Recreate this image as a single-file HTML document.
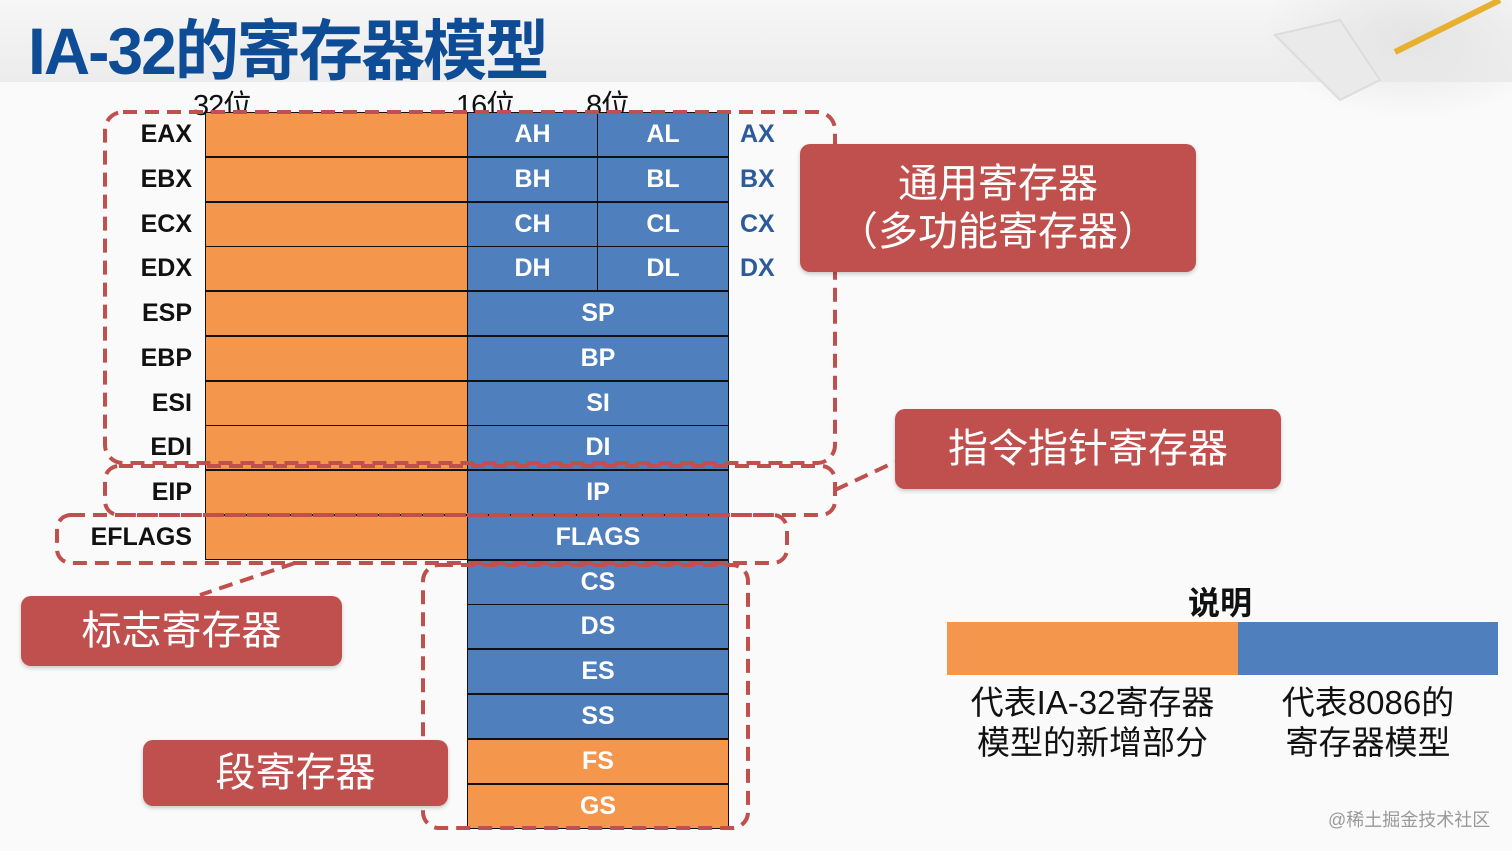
<!DOCTYPE html>
<html><head><meta charset="utf-8"><style>
*{margin:0;padding:0;box-sizing:border-box}
body{width:1512px;height:851px;overflow:hidden;background:#fafafa;position:relative;font-family:"Liberation Sans","Noto Sans CJK SC",sans-serif}
.a{position:absolute}
.title{left:28px;top:-2px;font-size:66px;font-weight:bold;color:#0f4c96;letter-spacing:-2px;transform:scaleX(0.97);transform-origin:left}
.cell{position:absolute;height:45px;border:1.5px solid #111;color:#fff;font-weight:bold;font-size:25px;display:flex;align-items:center;justify-content:center}
.o{background:#f4964c}.b{background:#4f7fbc}
.lab{position:absolute;width:190px;text-align:right;font-weight:bold;font-size:25px;color:#111;height:45px;line-height:45px;left:2px}
.x{position:absolute;left:740px;font-weight:bold;font-size:25px;color:#2d5a99;height:45px;line-height:45px}
.red{position:absolute;background:#c0504d;color:#fff;border-radius:10px;display:flex;align-items:center;justify-content:center;text-align:center;font-size:40px;line-height:48px;box-shadow:0 2px 4px rgba(0,0,0,.2)}
.bit{position:absolute;top:82px;font-size:29px;color:#111;letter-spacing:-1px}
</style></head><body>
<div class="a" style="left:0;top:0;width:1512px;height:82px;background:linear-gradient(#f6f6f6,#ececec)"></div>
<div class="a" style="left:1260px;top:0;width:252px;height:120px;background:radial-gradient(ellipse at 60% 30%,#e4e4e4,rgba(240,240,240,0) 70%)"></div>
<svg class="a" style="left:0;top:0" width="1512" height="130"><polygon points="1275,35 1340,100 1380,80 1340,20" fill="#eaeaea" stroke="#dcdcdc" stroke-width="2"/><line x1="1395" y1="52" x2="1500" y2="0" stroke="#e8b030" stroke-width="6"/></svg>
<div class="a title">IA-32的寄存器模型</div>
<div class="bit" style="left:193px">32位</div>
<div class="bit" style="left:456px">16位</div>
<div class="bit" style="left:586px">8位</div>

<div class="lab" style="top:112px">EAX</div><div class="cell o" style="left:205px;top:112px;width:263px"></div><div class="cell b" style="left:467px;top:112px;width:131px">AH</div><div class="cell b" style="left:597px;top:112px;width:132px">AL</div><div class="x" style="top:112px">AX</div>
<div class="lab" style="top:157px">EBX</div><div class="cell o" style="left:205px;top:157px;width:263px"></div><div class="cell b" style="left:467px;top:157px;width:131px">BH</div><div class="cell b" style="left:597px;top:157px;width:132px">BL</div><div class="x" style="top:157px">BX</div>
<div class="lab" style="top:202px">ECX</div><div class="cell o" style="left:205px;top:202px;width:263px"></div><div class="cell b" style="left:467px;top:202px;width:131px">CH</div><div class="cell b" style="left:597px;top:202px;width:132px">CL</div><div class="x" style="top:202px">CX</div>
<div class="lab" style="top:246px">EDX</div><div class="cell o" style="left:205px;top:246px;width:263px"></div><div class="cell b" style="left:467px;top:246px;width:131px">DH</div><div class="cell b" style="left:597px;top:246px;width:132px">DL</div><div class="x" style="top:246px">DX</div>
<div class="lab" style="top:291px">ESP</div><div class="cell o" style="left:205px;top:291px;width:263px"></div><div class="cell b" style="left:467px;top:291px;width:262px">SP</div>
<div class="lab" style="top:336px">EBP</div><div class="cell o" style="left:205px;top:336px;width:263px"></div><div class="cell b" style="left:467px;top:336px;width:262px">BP</div>
<div class="lab" style="top:381px">ESI</div><div class="cell o" style="left:205px;top:381px;width:263px"></div><div class="cell b" style="left:467px;top:381px;width:262px">SI</div>
<div class="lab" style="top:425px">EDI</div><div class="cell o" style="left:205px;top:425px;width:263px"></div><div class="cell b" style="left:467px;top:425px;width:262px">DI</div>
<div class="lab" style="top:470px">EIP</div><div class="cell o" style="left:205px;top:470px;width:263px"></div><div class="cell b" style="left:467px;top:470px;width:262px">IP</div>
<div class="lab" style="top:515px">EFLAGS</div><div class="cell o" style="left:205px;top:515px;width:263px"></div><div class="cell b" style="left:467px;top:515px;width:262px">FLAGS</div>
<div class="cell b" style="left:467px;top:560px;width:262px">CS</div>
<div class="cell b" style="left:467px;top:604px;width:262px">DS</div>
<div class="cell b" style="left:467px;top:649px;width:262px">ES</div>
<div class="cell b" style="left:467px;top:694px;width:262px">SS</div>
<div class="cell o" style="left:467px;top:739px;width:262px">FS</div>
<div class="cell o" style="left:467px;top:784px;width:262px">GS</div>

<svg class="a" style="left:0;top:0" width="1512" height="851">
<g fill="none" stroke="#c0504d" stroke-width="4" stroke-dasharray="14,8">
<rect x="105" y="112" width="730" height="351" rx="18"/>
<rect x="105" y="466" width="730" height="49" rx="14"/>
<rect x="57" y="515" width="730" height="48" rx="14"/>
<rect x="423" y="565" width="325" height="263" rx="16"/>
<line x1="835" y1="490" x2="895" y2="462"/>
<line x1="295" y1="563" x2="200" y2="595"/>
</g></svg>

<div class="red" style="left:800px;top:144px;width:396px;height:128px">通用寄存器<br>（多功能寄存器）</div>
<div class="red" style="left:895px;top:409px;width:386px;height:80px">指令指针寄存器</div>
<div class="red" style="left:21px;top:596px;width:321px;height:70px">标志寄存器</div>
<div class="red" style="left:143px;top:740px;width:305px;height:66px">段寄存器</div>

<div class="a" style="left:1188px;top:578px;font-size:32px;font-weight:bold;color:#111">说明</div>
<div class="a" style="left:947px;top:622px;width:291px;height:53px;background:#f4964c"></div>
<div class="a" style="left:1238px;top:622px;width:260px;height:53px;background:#4f7fbc"></div>
<div class="a" style="left:940px;top:683px;width:305px;text-align:center;font-size:33px;line-height:40px;color:#111">代表IA-32寄存器<br>模型的新增部分</div>
<div class="a" style="left:1238px;top:683px;width:260px;text-align:center;font-size:33px;line-height:40px;color:#111">代表8086的<br>寄存器模型</div>
<div class="a" style="left:1328px;top:806px;font-size:18px;color:#999">@稀土掘金技术社区</div>
</body></html>
